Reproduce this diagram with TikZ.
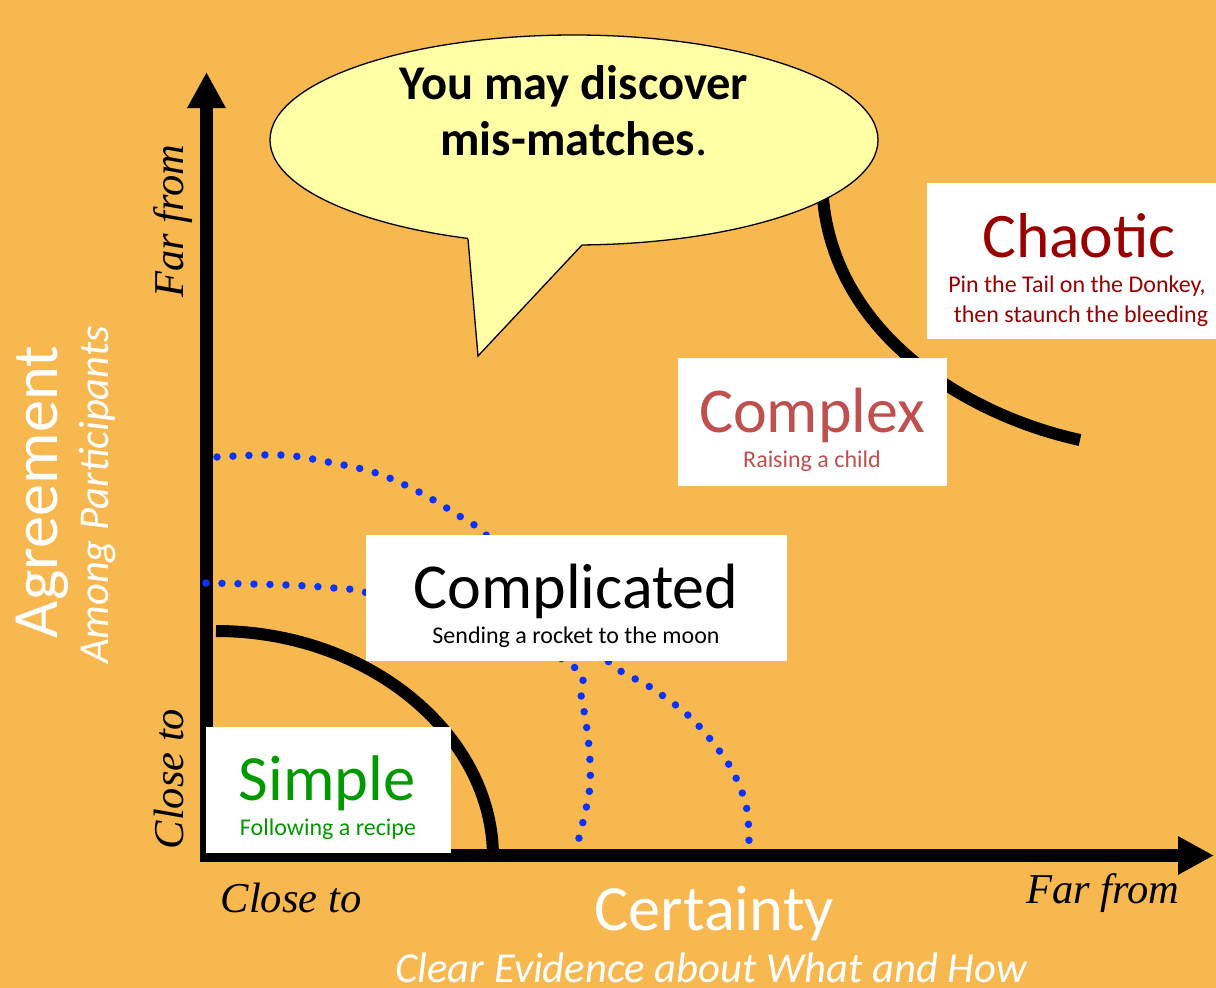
\documentclass[tikz,border=0pt]{standalone}
\usepackage{fontspec}
\setmainfont{Carlito}
\newfontfamily\tnr{Liberation Serif}
\usetikzlibrary{arrows.meta}
\definecolor{bg}{HTML}{F7B84F}
\definecolor{balloon}{HTML}{FFFFA6}
\definecolor{dotblue}{HTML}{0A32FF}
\definecolor{simplegreen}{HTML}{009900}
\definecolor{chaosred}{HTML}{990000}
\definecolor{complexred}{HTML}{C0504D}
\newcommand{\fsz}[1]{\fontsize{#1}{#1}\selectfont}
\begin{document}
\begin{tikzpicture}[x=1pt,y=-1pt,
  axis/.style={line width=12.5pt, -{Triangle[width=36pt,length=36pt]}},
  thickcurve/.style={line width=12pt},
  dotcurve/.style={dotblue, line width=7.5pt, line cap=round, dash pattern=on 0pt off 16pt},
  whitebox/.style={fill=white, draw=none, inner sep=0pt, anchor=north west},
  lbl/.style={anchor=base, inner sep=0pt},
  ital/.style={lbl, font=\tnr\itshape\fsz{42.5}, text=black}
]
\useasboundingbox (0,0) rectangle (1216,988);
\fill[bg] (0,0) rectangle (1216,988);

% axes
\coordinate (yb) at (206.5,861);
\coordinate (yt) at (206.5,72);
\coordinate (xl) at (200,855.5);
\coordinate (xr) at (1214,855.5);
\draw[axis] (yb) -- (yt);
\draw[axis] (xl) -- (xr);

% dotted boundaries
\draw[dotcurve] plot[smooth, tension=0.6] coordinates {(217,457) (281,455) (328,462) (376,473) (419,492) (461,517) (486,535) (550,600) (610,663) (650,687) (690,717) (721,753) (737,780) (747,810) (749,843)};
\draw[dotcurve] plot[smooth, tension=0.6] coordinates {(206,583) (287,585) (334,588) (364,592) (480,620) (574,667) (581,695) (587,730) (590,762) (589,794) (578,842)};

% thick black boundaries
\draw[thickcurve] (216,631) .. controls (369,631) and (493,735) .. (493,857);
\draw[thickcurve] (822,180) .. controls (824,330) and (965,415) .. (1080,440);

% speech balloon
\filldraw[fill=balloon, draw=black, line width=1.3pt] (574,140) ellipse [x radius=304pt, y radius=105pt];
\fill[balloon] (468,239) -- (478,356) -- (582,245) -- (578,222) -- (470,222) -- cycle;
\draw[line width=1.3pt, line join=miter] (468,239) -- (478,356) -- (582,245);
\node[lbl, font=\bfseries\fsz{48.5}] (b1) at (574,99.5) {You may discover};
\node[lbl, font=\fsz{48.5}] (b2) at (574,155) {\textbf{mis-matches}.};

% boxes
\node[whitebox, minimum width=245pt, minimum height=126pt] (simplebox) at (206,727) {};
\node[whitebox, minimum width=421pt, minimum height=126pt] (compbox) at (366,535) {};
\node[whitebox, minimum width=269pt, minimum height=128pt] (cplxbox) at (678,358) {};
\node[whitebox, minimum width=289pt, minimum height=156pt] (chaosbox) at (927,183) {};

% box texts
\node[lbl, text=simplegreen, font=\fsz{64.5}] (simple) at (327,800) {Simple};
\node[lbl, text=simplegreen, font=\fsz{24}] (simple2) at (328,835) {Following a recipe};
\node[lbl, text=black, font=\fsz{64}] (compl) at (576,608) {Complicated};
\node[lbl, text=black, font=\fsz{24}] (compl2) at (576,643) {Sending a rocket to the moon};
\node[lbl, text=complexred, font=\fsz{64}] (cplx) at (812,432) {Complex};
\node[lbl, text=complexred, font=\fsz{24}] (cplx2) at (812,467) {Raising a child};
\node[lbl, text=chaosred, font=\fsz{63.5}] (chaos) at (1079,257) {Chaotic};
\node[lbl, text=chaosred, font=\fsz{24}] (chaos2) at (1077,292) {Pin the Tail on the Donkey,};
\node[lbl, text=chaosred, font=\fsz{24}] (chaos3) at (1081,322) {then staunch the bleeding};

% axis labels
\node[lbl, rotate=90, text=white, font=\fsz{64.5}] (agree) at (57,492) {Agreement};
\node[lbl, rotate=90, text=white, font=\itshape\fsz{42.5}] (among) at (108,495) {Among Participants};
\node[ital, rotate=90] (yfar) at (183,221) {Far from};
\node[ital, rotate=90] (yclose) at (183,779) {Close to};
\node[ital] (xclose) at (291,912) {Close to};
\node[ital] (xfar) at (1103,903) {Far from};
\node[lbl, text=white, font=\fsz{64.5}] (cert) at (714,930) {Certainty};
\node[lbl, text=white, font=\itshape\fsz{42.7}] (evid) at (711,982) {Clear Evidence about What and How};
\end{tikzpicture}
\end{document}
